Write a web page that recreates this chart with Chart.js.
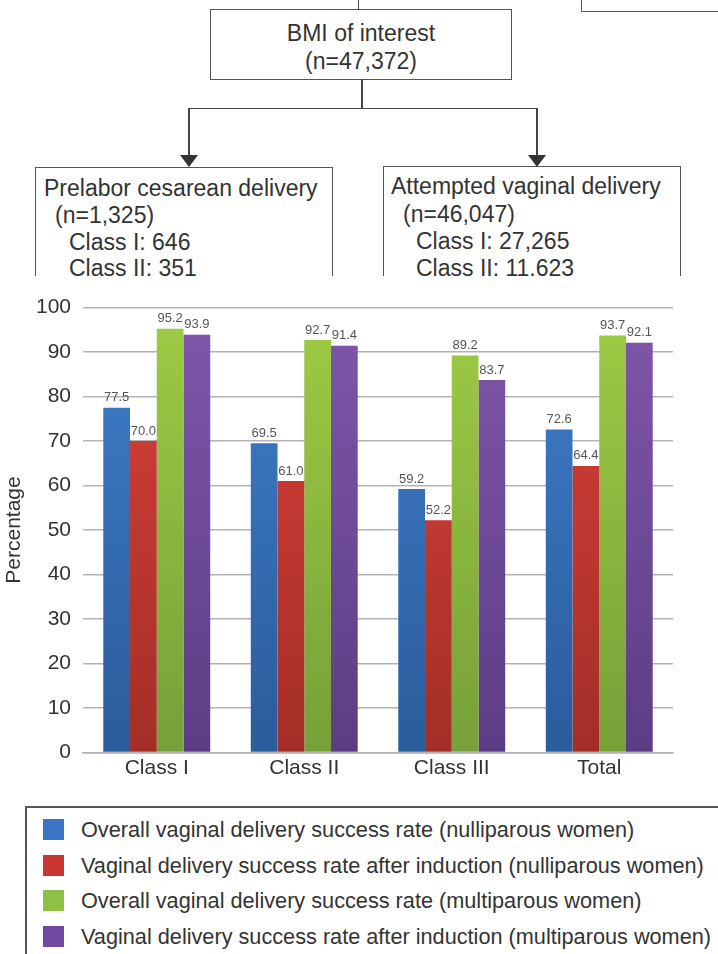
<!DOCTYPE html>
<html>
<head>
<meta charset="utf-8">
<script src="https://cdn.jsdelivr.net/npm/chart.js@4.4.1/dist/chart.umd.min.js"></script>
<style>
  html, body { margin: 0; padding: 0; background: #fff; }
  body { width: 718px; height: 954px; position: relative; overflow: hidden;
         font-family: "Liberation Sans", Arial, sans-serif; color: #333; }
  .box { position: absolute; border: 1.8px solid #555; box-sizing: border-box; background: #fff; }
  .ln { position: absolute; background: #444; }
  .txt { position: absolute; font-size: 23px; line-height: 26px; white-space: nowrap; color: #333; }
  .arrow { position: absolute; width: 0; height: 0; border-left: 9px solid transparent;
           border-right: 9px solid transparent; border-top: 12px solid #333; }
  #flow { position: absolute; left: 0; top: 0; width: 718px; height: 276px; overflow: hidden; }
  #chartWrap { position: absolute; left: 0; top: 280px; width: 718px; height: 520px; }
  #legend { position: absolute; left: 25px; top: 805.5px; width: 720px; height: 200px;
            border: 2px solid #555; box-sizing: border-box; }
  .lg-item { position: absolute; left: 16px; height: 26px; }
  .lg-sw { position: absolute; left: 0; top: 2.5px; width: 21px; height: 21px; }
  .lg-tx { position: absolute; left: 38px; top: 0; font-size: 21.7px; line-height: 26px; white-space: nowrap; color: #333; }
</style>
</head>
<body>

<div id="flow">
  <!-- incoming connector and neighbouring box edge -->
  <div class="ln" style="left:357.5px; top:0; width:1.8px; height:9px;"></div>
  <div class="box" style="left:581px; top:-20px; width:300px; height:32px;"></div>

  <!-- root node -->
  <div class="box" style="left:210px; top:9px; width:302px; height:71px;"></div>
  <div class="txt" style="left:210px; width:302px; text-align:center; top:20px;">BMI of interest</div>
  <div class="txt" style="left:210px; width:302px; text-align:center; top:48px;">(n=47,372)</div>

  <!-- connectors -->
  <div class="ln" style="left:361px; top:79px; width:1.8px; height:30px;"></div>
  <div class="ln" style="left:188px; top:107.5px; width:349.8px; height:1.8px;"></div>
  <div class="ln" style="left:188px; top:108px; width:1.8px; height:48px;"></div>
  <div class="ln" style="left:536px; top:108px; width:1.8px; height:48px;"></div>
  <div class="arrow" style="left:179.9px; top:155px;"></div>
  <div class="arrow" style="left:527.9px; top:155px;"></div>

  <!-- child nodes -->
  <div class="box" style="left:34.5px; top:167px; width:298px; height:160px;"></div>
  <div class="txt" style="left:44px; top:175px;">Prelabor cesarean delivery</div>
  <div class="txt" style="left:55px; top:202px;">(n=1,325)</div>
  <div class="txt" style="left:69px; top:229px;">Class I: 646</div>
  <div class="txt" style="left:69px; top:255px;">Class II: 351</div>

  <div class="box" style="left:382.5px; top:166px; width:298px; height:160px;"></div>
  <div class="txt" style="left:391px; top:173px;">Attempted vaginal delivery</div>
  <div class="txt" style="left:403px; top:201px;">(n=46,047)</div>
  <div class="txt" style="left:416px; top:228px;">Class I: 27,265</div>
  <div class="txt" style="left:416px; top:255px;">Class II: 11,623</div>
</div>

<div id="chartWrap"><canvas id="chart" width="718" height="520"></canvas></div>

<div id="legend"></div>

<script>
// BMI classes on the x axis
const categories = ['Class I', 'Class II', 'Class III', 'Total'];

// Success rates (%) per series
const nulliparousOverall   = [77.5, 69.5, 59.2, 72.6];
const nulliparousInduction = [70.0, 61.0, 52.2, 64.4];
const multiparousOverall   = [95.2, 92.7, 89.2, 93.7];
const multiparousInduction = [93.9, 91.4, 83.7, 92.1];

const seriesLabels = [
  'Overall vaginal delivery success rate (nulliparous women)',
  'Vaginal delivery success rate after induction (nulliparous women)',
  'Overall vaginal delivery success rate (multiparous women)',
  'Vaginal delivery success rate after induction (multiparous women)'
];

// Y axis ticks
const yTicks = [0, 10, 20, 30, 40, 50, 60, 70, 80, 90, 100];

// Bar shading: lighter at the top, darker toward the baseline
const palette = [
  { top: '#3e7ecb', bottom: '#2b5c9b', swatch: '#3a74c4' },
  { top: '#d9413a', bottom: '#a32e27', swatch: '#c8362f' },
  { top: '#9ecc44', bottom: '#76a039', swatch: '#8fbf44' },
  { top: '#8057ab', bottom: '#5c3d84', swatch: '#6f48a0' }
];

function gradientFor(i) {
  return function (ctx) {
    const chart = ctx.chart;
    const area = chart.chartArea;
    if (!area) return palette[i].top;
    const g = chart.ctx.createLinearGradient(0, area.top, 0, area.bottom);
    g.addColorStop(0, palette[i].top);
    g.addColorStop(1, palette[i].bottom);
    return g;
  };
}

const seriesData = [nulliparousOverall, nulliparousInduction, multiparousOverall, multiparousInduction];

const datasets = seriesData.map((values, i) => ({
  label: seriesLabels[i],
  data: values,
  backgroundColor: gradientFor(i),
  borderWidth: 0,
  categoryPercentage: 0.725,
  barPercentage: 1.0
}));

// Value labels above each bar
const valueLabels = {
  id: 'valueLabels',
  afterDatasetsDraw(chart) {
    const ctx = chart.ctx;
    ctx.save();
    ctx.font = '13px "Liberation Sans", Arial, sans-serif';
    ctx.fillStyle = '#555';
    ctx.textAlign = 'center';
    ctx.textBaseline = 'middle';
    chart.data.datasets.forEach((ds, di) => {
      chart.getDatasetMeta(di).data.forEach((bar, j) => {
        ctx.fillText(ds.data[j].toFixed(1), bar.x, bar.y - 10);
      });
    });
    ctx.restore();
  }
};

new Chart(document.getElementById('chart'), {
  type: 'bar',
  data: { labels: categories, datasets },
  plugins: [valueLabels],
  options: {
    responsive: false,
    animation: false,
    devicePixelRatio: 1,
    layout: { padding: { top: 27.5, right: 45, left: 0, bottom: 0 } },
    plugins: { legend: { display: false }, tooltip: { enabled: false } },
    scales: {
      x: {
        grid: { display: false, drawTicks: false },
        border: { display: true, color: '#b3b3b3', width: 1.6 },
        ticks: { color: '#333', padding: 3, font: { size: 21, family: '"Liberation Sans", Arial, sans-serif' } },
        afterFit(scale) { scale.height = 47.5; }
      },
      y: {
        min: 0, max: 100,
        afterBuildTicks(scale) { scale.ticks = yTicks.map(v => ({ value: v })); },
        grid: { color: '#b3b3b3', lineWidth: 1.6, drawTicks: false },
        border: { display: false },
        ticks: { color: '#333', padding: 12, font: { size: 21, family: '"Liberation Sans", Arial, sans-serif' } },
        title: {
          display: true, text: 'Percentage', color: '#333',
          padding: { top: 2, bottom: 0 },
          font: { size: 21, family: '"Liberation Sans", Arial, sans-serif' }
        },
        afterFit(scale) { scale.width = 83; }
      }
    }
  }
});

// Legend box built from the series definitions
const legendEl = document.getElementById('legend');
const rowCenters = [22.3, 58, 93, 129];
seriesLabels.forEach((label, i) => {
  const item = document.createElement('div');
  item.className = 'lg-item';
  item.style.top = (rowCenters[i] - 13) + 'px';
  const sw = document.createElement('div');
  sw.className = 'lg-sw';
  sw.style.background = palette[i].swatch;
  const tx = document.createElement('div');
  tx.className = 'lg-tx';
  tx.textContent = label;
  item.appendChild(sw);
  item.appendChild(tx);
  legendEl.appendChild(item);
});
</script>
</body>
</html>
